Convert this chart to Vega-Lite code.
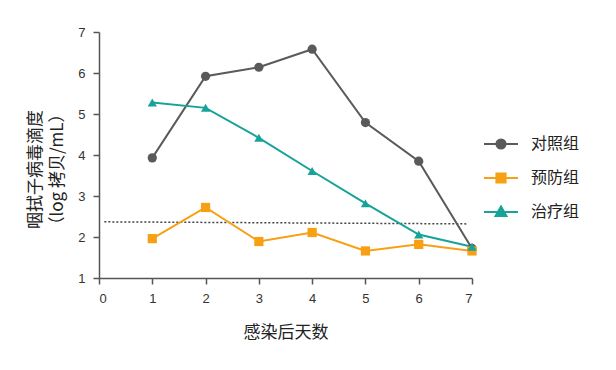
{
  "$schema": "https://vega.github.io/schema/vega-lite/v6.json",
  "autosize": {"type": "none"},
  "width": 373,
  "height": 246,
  "padding": {"left": 99, "top": 32, "right": 144, "bottom": 92},
  "background": "white",
  "config": {
    "view": {"stroke": null},
    "axis": {
      "grid": false,
      "domainColor": "#555555",
      "tickColor": "#555555",
      "domainWidth": 1.5,
      "tickWidth": 1.5,
      "tickSize": 6,
      "labelFont": "Liberation Sans",
      "labelFontSize": 13,
      "labelColor": "#333333",
      "titleFont": "Noto Sans CJK SC",
      "titleFontSize": 17,
      "titleFontWeight": "normal",
      "titleColor": "#222222"
    }
  },
  "datasets": {
    "series": [
      {"day": 1, "value": 3.93, "group": "对照组"},
      {"day": 2, "value": 5.92, "group": "对照组"},
      {"day": 3, "value": 6.14, "group": "对照组"},
      {"day": 4, "value": 6.58, "group": "对照组"},
      {"day": 5, "value": 4.79, "group": "对照组"},
      {"day": 6, "value": 3.85, "group": "对照组"},
      {"day": 7, "value": 1.72, "group": "对照组"},
      {"day": 1, "value": 1.96, "group": "预防组"},
      {"day": 2, "value": 2.72, "group": "预防组"},
      {"day": 3, "value": 1.89, "group": "预防组"},
      {"day": 4, "value": 2.11, "group": "预防组"},
      {"day": 5, "value": 1.66, "group": "预防组"},
      {"day": 6, "value": 1.82, "group": "预防组"},
      {"day": 7, "value": 1.66, "group": "预防组"},
      {"day": 1, "value": 5.28, "group": "治疗组"},
      {"day": 2, "value": 5.15, "group": "治疗组"},
      {"day": 3, "value": 4.42, "group": "治疗组"},
      {"day": 4, "value": 3.61, "group": "治疗组"},
      {"day": 5, "value": 2.82, "group": "治疗组"},
      {"day": 6, "value": 2.06, "group": "治疗组"},
      {"day": 7, "value": 1.76, "group": "治疗组"}
    ],
    "threshold": [
      {"x": 0.1, "y": 2.37, "x2": 6.9, "y2": 2.32}
    ]
  },
  "layer": [
    {
      "data": {"name": "threshold"},
      "mark": {"type": "rule", "color": "#444444", "strokeWidth": 1.5, "strokeDash": [2, 2]},
      "encoding": {
        "x": {"field": "x", "type": "quantitative", "scale": {"domain": [0, 7], "nice": false, "zero": false}},
        "y": {"field": "y", "type": "quantitative", "scale": {"domain": [1, 7], "nice": false, "zero": false}},
        "x2": {"field": "x2"},
        "y2": {"field": "y2"}
      }
    },
    {
      "data": {"name": "series"},
      "mark": {"type": "line", "strokeWidth": 2},
      "encoding": {
        "x": {"field": "day", "type": "quantitative", "scale": {"domain": [0, 7], "nice": false, "zero": false},
          "axis": {"values": [0, 1, 2, 3, 4, 5, 6, 7], "title": "感染后天数", "titlePadding": 19, "labelPadding": 8, "format": "d"}},
        "y": {"field": "value", "type": "quantitative", "scale": {"domain": [1, 7], "nice": false, "zero": false},
          "axis": {"values": [1, 2, 3, 4, 5, 6, 7], "title": ["咽拭子病毒滴度", "（log 拷贝/mL）"], "titlePadding": 11, "titleLineHeight": 22, "titleY": 137, "labelPadding": 8, "format": "d"}},
        "color": {"field": "group", "type": "nominal",
          "scale": {"domain": ["对照组", "预防组", "治疗组"], "range": ["#5a5a5a", "#f8a013", "#17a398"]},
          "legend": {
            "title": null,
            "orient": "none",
            "legendX": 384,
            "legendY": 94,
            "symbolSize": 1156,
            "rowPadding": 7,
            "labelOffset": 12,
            "labelFont": "Noto Sans CJK SC",
            "labelFontSize": 16,
            "labelColor": "#222222",
            "symbolStrokeWidth": 2,
            "encode": {
              "symbols": {
                "update": {
                  "shape": {"signal": "datum.value === '对照组' ? 'M-1,0H1M0.27,0A0.27,0.27 0 1 1 -0.27,0A0.27,0.27 0 1 1 0.27,0Z' : datum.value === '预防组' ? 'M-1,0H1M-0.27,-0.27H0.27V0.27H-0.27Z' : 'M-1,0H1M0,-0.32L0.32,0.24H-0.32Z'"},
                  "stroke": {"signal": "scale('color', datum.value)"},
                  "fill": {"signal": "scale('color', datum.value)"},
                  "strokeWidth": {"value": 2},
                  "opacity": {"value": 1}
                }
              }
            }
          }}
      }
    },
    {
      "data": {"name": "series"},
      "mark": {"type": "point", "filled": true, "opacity": 1, "size": 85},
      "encoding": {
        "x": {"field": "day", "type": "quantitative"},
        "y": {"field": "value", "type": "quantitative"},
        "shape": {
          "condition": [
            {"test": "datum.group === '对照组'", "value": "circle"},
            {"test": "datum.group === '预防组'", "value": "square"}
          ],
          "value": "triangle-up"
        },
        "color": {"field": "group", "type": "nominal"}
      }
    }
  ]
}
